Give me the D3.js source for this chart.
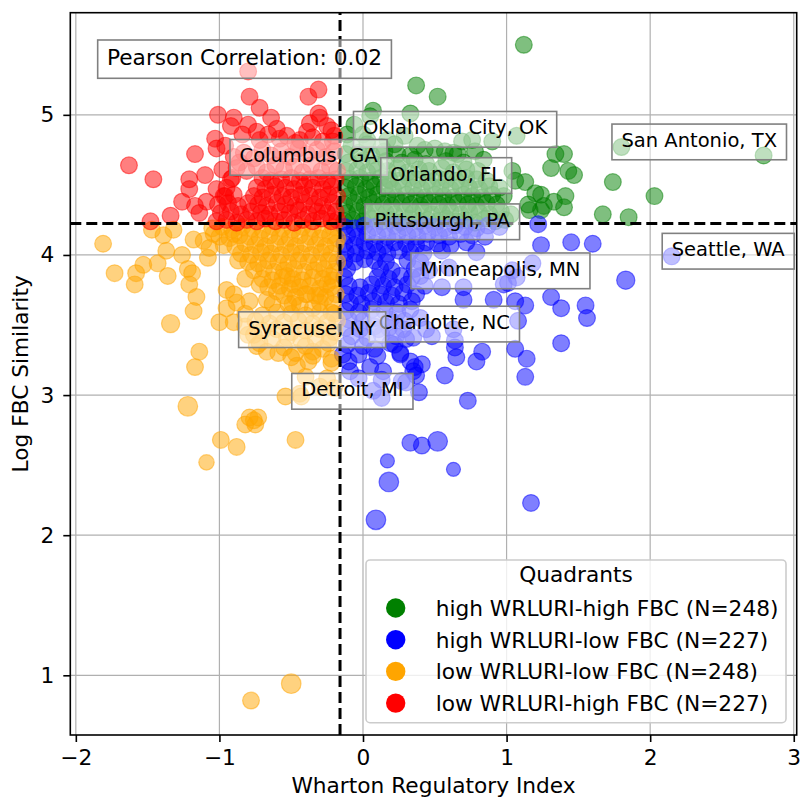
<!DOCTYPE html>
<html><head><meta charset="utf-8">
<script src="https://cdn.jsdelivr.net/npm/d3@7"></script>
<style>body{margin:0;background:#fff} text{font-family:"DejaVu Sans",sans-serif;fill:#000}</style>
</head><body><svg id="c" width="800" height="800"></svg>
<script>
// ---------------- data ----------------
const xTicks = [-2, -1, 0, 1, 2, 3];
const yTicks = [1, 2, 3, 4, 5];
const medianX = -0.16, medianY = 4.224;
const pearson = 0.02;
const groupNames = ["high WRLURI-high FBC", "high WRLURI-low FBC", "low WRLURI-low FBC", "low WRLURI-high FBC"];
const groupCounts = [248, 227, 248, 227];
const groupColors = ["#008000", "#0000ff", "#ffa500", "#ff0000"];

// [x, y, size(1-3, default 2)]
const highHigh = [
[1.12,5.50],[0.37,5.21],[0.52,5.13],[0.07,5.03],[0.33,5.01],[-0.11,4.86],[0.05,4.99],[-0.06,4.93],
[0.90,4.81],[1.07,4.85],[0.69,4.81],[0.76,4.82],[0.50,4.76],[0.57,4.74],[0.63,4.73],[0.29,4.85],[0.43,4.75],[0.17,4.82],[0.03,4.82],
[1.34,4.72],[1.40,4.72],[1.31,4.62],[1.43,4.60],[1.47,4.57],[1.74,4.52],[2.03,4.42],
[1.04,4.60],[1.06,4.53],[1.13,4.52],[1.20,4.44],[1.24,4.43],[1.15,4.36],[1.33,4.38],[1.41,4.42],[1.40,4.34],[1.26,4.35],[1.24,4.32],[1.16,4.32],
[1.67,4.29],[1.85,4.27],[2.79,4.71],[1.80,4.77],[0.00,4.86],[0.19,4.53],
[-0.13,4.24],[-0.07,4.25],[0.00,4.24],[0.06,4.26],[0.13,4.24],[0.19,4.25],[0.26,4.23],[0.32,4.26],[0.39,4.24],[0.45,4.25],[0.52,4.24],[0.58,4.26],[0.65,4.24],[0.71,4.25],[0.78,4.23],[0.85,4.26],[0.92,4.24],[0.99,4.25],
[-0.11,4.30],[-0.04,4.31],[0.03,4.29],[0.09,4.31],[0.16,4.30],[0.22,4.29],[0.29,4.31],[0.35,4.30],[0.42,4.32],[0.48,4.29],[0.55,4.30],[0.61,4.31],[0.68,4.29],[0.74,4.31],[0.81,4.30],[0.88,4.29],[0.96,4.31],[1.03,4.29],
[-0.13,4.36],[-0.06,4.37],[0.01,4.35],[0.07,4.37],[0.14,4.36],[0.20,4.35],[0.27,4.37],[0.33,4.36],[0.40,4.35],[0.46,4.37],[0.53,4.36],[0.59,4.35],[0.66,4.37],[0.73,4.36],[0.79,4.35],[0.86,4.37],[0.93,4.36],
[-0.10,4.42],[-0.03,4.43],[0.04,4.41],[0.10,4.43],[0.17,4.42],[0.23,4.41],[0.30,4.43],[0.37,4.42],[0.43,4.41],[0.50,4.43],[0.56,4.42],[0.63,4.41],[0.70,4.43],[0.76,4.42],[0.83,4.41],[0.90,4.43],[0.98,4.42],
[-0.12,4.48],[-0.05,4.49],[0.02,4.47],[0.08,4.49],[0.15,4.48],[0.21,4.47],[0.28,4.49],[0.35,4.48],[0.41,4.47],[0.48,4.49],[0.54,4.48],[0.61,4.47],[0.68,4.49],[0.74,4.48],[0.81,4.47],[0.88,4.49],[0.95,4.48],
[-0.09,4.54],[-0.02,4.55],[0.05,4.53],[0.12,4.55],[0.18,4.54],[0.25,4.53],[0.32,4.55],[0.38,4.54],[0.45,4.53],[0.52,4.55],[0.58,4.54],[0.65,4.53],[0.72,4.55],[0.79,4.54],[0.86,4.53],
[-0.12,4.60],[-0.04,4.61],[0.03,4.59],[0.10,4.61],[0.17,4.60],[0.24,4.62],[0.31,4.59],[0.39,4.61],[0.46,4.60],[0.55,4.62],[0.63,4.59],[0.72,4.61],[0.80,4.60],
[-0.10,4.66],[-0.01,4.67],[0.08,4.65],[0.16,4.67],[0.27,4.66],[0.36,4.68],[0.44,4.65],[0.58,4.67],[0.70,4.66],[0.84,4.68],
[-0.12,4.72],[-0.03,4.73],[0.06,4.71],[0.15,4.74],[0.24,4.72],[0.33,4.71],[0.66,4.72],[0.78,4.74],
[-0.08,4.78],[0.03,4.79],[0.13,4.77],[0.22,4.79],[0.38,4.78]
];

const highLow = [
[1.22,4.22],[1.24,4.07],[1.45,4.09],[1.60,4.08],[1.83,3.82,2.5],[2.15,3.99],
[1.31,3.70],[1.38,3.62],[1.55,3.64],[1.56,3.55],[1.38,3.37],[1.13,3.64],[1.06,3.67],[1.08,3.53],[0.91,3.68],[0.70,3.68],
[0.83,3.31],[1.06,3.33],[1.14,3.26],[0.79,3.24],[0.65,3.27],[0.57,3.14],[1.13,3.13],[0.73,2.96],
[0.41,3.22],[0.36,3.20],[0.26,3.29],[0.39,3.02],[0.55,3.77],[0.70,3.77],[0.79,4.02],[1.18,3.94],[1.01,3.80],[1.04,3.89],[0.98,3.79],[1.07,3.84],
[0.64,3.39],[0.63,3.47],[0.48,3.42],[0.44,3.47],[0.30,3.40],[0.19,3.37],[0.08,3.33],[-0.03,3.29],[-0.10,3.24],[0.33,3.24],[0.37,3.14],[0.27,3.10],[0.13,2.98],[0.07,3.03],[0.30,3.09],
[0.33,2.66],[0.41,2.64],[0.52,2.67,3],[0.17,2.53,1],[0.18,2.38,3],[0.63,2.47,1],[1.17,2.23],[0.09,2.11,3],
[0.08,4.20],[0.40,3.85],[0.11,3.47],
[-0.14,3.29],[0.10,3.28],[0.26,3.30],[0.35,3.17],[0.14,3.17],[-0.09,3.17],[0.05,3.20],[0.64,3.34],
[-0.13,4.20],[-0.06,4.19],[0.01,4.21],[0.15,4.19],[0.22,4.21],[0.29,4.20],[0.36,4.19],[0.43,4.21],[0.50,4.20],[0.57,4.19],[0.64,4.21],[0.71,4.20],[0.79,4.19],[0.87,4.21],[0.95,4.20],
[-0.11,4.14],[-0.04,4.13],[0.03,4.15],[0.10,4.14],[0.17,4.13],[0.24,4.15],[0.31,4.14],[0.38,4.13],[0.45,4.15],[0.53,4.14],[0.60,4.13],[0.68,4.15],[0.76,4.14],[0.85,4.13],
[-0.13,4.08],[-0.06,4.07],[0.01,4.09],[0.08,4.08],[0.15,4.07],[0.22,4.09],[0.30,4.08],[0.37,4.07],[0.44,4.09],[0.52,4.08],[0.61,4.07],[0.72,4.09],
[-0.12,4.02],[-0.05,4.01],[0.03,4.03],[0.10,4.02],[0.17,4.01],[0.25,4.03],[0.33,4.02],[0.42,4.01],[0.55,4.03],
[-0.13,3.96],[-0.06,3.95],[0.01,3.97],[0.08,3.96],[0.16,3.95],[0.31,3.96],[0.40,3.95],
[-0.11,3.90],[0.12,3.90],[0.20,3.89],[0.36,3.90],[0.46,3.89],[0.60,3.91],
[-0.13,3.84],[0.10,3.84],[0.18,3.83],[0.26,3.85],[0.34,3.84],
[-0.10,3.78],[-0.02,3.77],[0.06,3.79],[0.14,3.78],[0.22,3.77],[0.31,3.79],[0.43,3.78],
[-0.12,3.72],[-0.04,3.71],[0.04,3.73],[0.12,3.72],[0.20,3.71],[0.28,3.73],[0.37,3.72],
[-0.09,3.66],[-0.01,3.65],[0.07,3.67],[0.16,3.66],[0.25,3.65],[0.34,3.67],
[-0.12,3.60],[-0.03,3.59],[0.06,3.61],[0.15,3.60],[0.24,3.59],[0.33,3.61],
[-0.10,3.54],[0.00,3.53],[0.09,3.55],[0.19,3.54],[0.29,3.53],[0.40,3.55],
[-0.12,3.48],[-0.02,3.47],[0.08,3.49],[0.18,3.48],[0.28,3.47],
[-0.08,3.42],[0.03,3.41],[0.13,3.43],[0.23,3.42],[0.35,3.41],
[-0.11,3.36],[0.00,3.35],[0.22,3.36],
[-0.03,3.12],[0.13,3.11]
];

const lowLow = [
[-1.81,4.08],[-1.73,3.87],[-1.59,3.79],[-1.58,3.87],[-1.53,3.93],[-1.43,3.94],[-1.36,3.85],[-1.37,4.03],[-1.26,4.00],[-1.39,4.14],[-1.47,4.18],[-1.32,4.18],
[-1.22,3.90],[-1.19,3.87],[-1.21,3.79],[-1.16,3.70],[-1.18,3.60],[-1.34,3.51,2.5],[-1.14,3.31],[-1.17,3.20],[-1.22,2.92,3],
[-1.00,3.52],[-0.95,3.62],[-0.95,3.75],[-0.88,3.66],[-0.90,3.72],[-0.87,3.96],[-1.08,3.98],[-1.11,4.10],[-1.18,4.11],[-1.04,4.15],[-0.90,4.15],[-1.07,4.05],
[-0.82,3.83],[-0.72,3.79],[-0.60,3.74],[-0.49,3.79],[-0.53,3.85],[-0.39,3.72],[-0.30,3.71],[-0.23,3.85],[-0.25,3.79],[-0.67,3.68],[-0.79,3.67],[-0.63,3.65],[-0.49,3.65],[-0.35,3.62],[-0.22,3.59],
[-0.72,3.37],[-0.67,3.31],[-0.59,3.30],[-0.47,3.30],[-0.35,3.31],[-0.24,3.37],[-0.46,3.21],[-0.22,3.23],[-0.38,3.24],[-0.54,2.99],[-0.44,3.01],[-0.76,3.43],[-0.82,3.49],[-0.74,3.35],
[-0.79,2.84],[-0.73,2.84],[-0.82,2.79],[-0.75,2.79],[-0.76,2.82],[-0.99,2.68],[-0.88,2.63],[-0.47,2.68],[-1.09,2.52,1.5],
[-0.78,0.82],[-0.50,0.94,3],
[-0.80,3.43],[-0.43,2.99],
[-1.05,4.19],[-0.98,4.20],[-0.91,4.18],[-0.84,4.20],[-0.77,4.19],[-0.70,4.18],[-0.63,4.20],[-0.56,4.19],[-0.49,4.18],[-0.42,4.20],[-0.35,4.19],[-0.28,4.18],[-0.21,4.20],
[-1.00,4.13],[-0.93,4.12],[-0.86,4.14],[-0.79,4.13],[-0.72,4.12],[-0.65,4.14],[-0.58,4.13],[-0.51,4.12],[-0.44,4.14],[-0.37,4.13],[-0.30,4.12],[-0.23,4.14],[-0.18,4.12],
[-0.97,4.07],[-0.89,4.06],[-0.82,4.08],[-0.75,4.07],[-0.68,4.06],[-0.61,4.08],[-0.54,4.07],[-0.47,4.06],[-0.40,4.08],[-0.33,4.07],[-0.26,4.06],[-0.19,4.08],
[-0.85,4.01],[-0.78,4.00],[-0.71,4.02],[-0.64,4.01],[-0.57,4.00],[-0.50,4.02],[-0.43,4.01],[-0.36,4.00],[-0.29,4.02],[-0.22,4.01],
[-0.80,3.95],[-0.73,3.94],[-0.66,3.96],[-0.59,3.95],[-0.52,3.94],[-0.45,3.96],[-0.38,3.95],[-0.31,3.94],[-0.24,3.96],[-0.18,3.95],
[-0.76,3.89],[-0.69,3.90],[-0.62,3.88],[-0.55,3.89],[-0.48,3.90],[-0.41,3.88],[-0.34,3.89],[-0.27,3.90],[-0.20,3.88],
[-0.70,3.83],[-0.63,3.82],[-0.56,3.84],[-0.49,3.83],[-0.42,3.82],[-0.35,3.84],[-0.28,3.83],[-0.21,3.82],
[-0.66,3.77],[-0.58,3.78],[-0.51,3.76],[-0.44,3.77],[-0.37,3.78],[-0.30,3.76],[-0.22,3.77],
[-0.55,3.71],[-0.47,3.70],[-0.40,3.72],[-0.33,3.71],[-0.26,3.70],[-0.19,3.72],
[-0.52,3.65],[-0.44,3.64],[-0.30,3.66],[-0.21,3.65],
[-0.82,3.58],[-0.70,3.57],[-0.60,3.59],[-0.50,3.58],[-0.40,3.57],[-0.30,3.59],[-0.20,3.58],
[-0.90,3.52],[-0.75,3.53],[-0.65,3.51],[-0.55,3.52],[-0.45,3.53],[-0.35,3.51],[-0.25,3.52],[-0.18,3.53],
[-0.70,3.46],[-0.60,3.47],[-0.50,3.45],[-0.40,3.46],[-0.30,3.47],[-0.20,3.45],
[-0.63,3.40],[-0.53,3.41],[-0.43,3.39],[-0.33,3.40],[-0.23,3.41],
[-0.55,3.34],[-0.40,3.35],[-0.28,3.33],
[-0.50,3.27],[-0.35,3.28],[-0.22,3.26],
[-0.40,3.13],[-0.25,3.12],[-0.30,3.06],[-0.20,3.05]
];

const lowHigh = [
[-0.80,5.31],[-1.63,4.64],[-1.46,4.54],[-1.17,4.72],[-0.79,5.13],[-0.72,5.05],[-0.38,5.13],[-0.31,5.18],
[-1.01,5.00],[-0.90,4.98],[-0.64,4.98],[-0.92,4.92],[-0.80,4.93],[-0.74,4.88],[-0.31,5.01],[-0.30,4.98],[-0.37,4.94],[-0.22,4.89],[-0.39,4.88],[-0.58,4.83],[-1.03,4.83],[-1.02,4.76],[-0.96,4.78],[-0.44,4.82],[-0.21,4.81],
[-1.10,4.57],[-1.21,4.54],[-0.98,4.61],[-0.91,4.55],[-1.21,4.47],[-1.26,4.38],[-1.09,4.38],[-1.17,4.35],[-1.34,4.28],[-1.48,4.24],[-1.14,4.30],[-1.02,4.47],[-0.96,4.42],
[-0.86,4.66],
[-1.02,4.24],[-0.95,4.25],[-0.88,4.23],[-0.81,4.25],[-0.74,4.24],[-0.68,4.26],[-0.61,4.24],[-0.55,4.25],[-0.48,4.23],[-0.42,4.25],[-0.35,4.24],[-0.29,4.26],[-0.22,4.24],[-0.18,4.25],
[-0.99,4.30],[-0.92,4.31],[-0.85,4.29],[-0.78,4.31],[-0.71,4.30],[-0.65,4.29],[-0.58,4.31],[-0.51,4.30],[-0.45,4.32],[-0.38,4.29],[-0.32,4.31],[-0.25,4.30],[-0.19,4.31],
[-1.01,4.36],[-0.94,4.37],[-0.87,4.35],[-0.80,4.37],[-0.73,4.36],[-0.67,4.35],[-0.60,4.37],[-0.54,4.36],[-0.47,4.35],[-0.41,4.37],[-0.34,4.36],[-0.28,4.35],[-0.21,4.37],
[-0.97,4.42],[-0.90,4.43],[-0.76,4.42],[-0.70,4.41],[-0.63,4.43],[-0.56,4.42],[-0.50,4.41],[-0.43,4.43],[-0.37,4.42],[-0.30,4.41],[-0.24,4.43],[-0.18,4.42],
[-0.95,4.48],[-0.74,4.48],[-0.68,4.47],[-0.61,4.49],[-0.54,4.48],[-0.48,4.47],[-0.41,4.49],[-0.35,4.48],[-0.28,4.47],[-0.22,4.49],
[-0.92,4.54],[-0.70,4.55],[-0.64,4.53],[-0.57,4.54],[-0.50,4.55],[-0.44,4.53],[-0.37,4.54],[-0.31,4.55],[-0.25,4.53],[-0.19,4.54],
[-0.90,4.70],[-0.83,4.73],[-0.76,4.69],[-0.70,4.75],[-0.64,4.71],[-0.57,4.74],[-0.51,4.70],[-0.45,4.76],[-0.39,4.72],[-0.32,4.75],[-0.26,4.70],[-0.20,4.74],
[-0.88,4.62],[-0.81,4.60],[-0.74,4.63],[-0.67,4.59],[-0.61,4.64],[-0.55,4.61],[-0.48,4.63],[-0.42,4.59],[-0.36,4.64],[-0.29,4.60],[-0.23,4.63],[-0.18,4.60],
[-0.72,4.82],[-0.66,4.86],[-0.53,4.85],[-0.47,4.80],[-0.35,4.84],[-0.28,4.81],[-0.20,4.85],[-0.84,4.86],[-0.60,4.90],[-0.25,4.92]
];

// annotated cities: [name, x, y]
const cities = [
["San Antonio, TX", 1.80, 4.77],
["Oklahoma City, OK", 0.00, 4.86],
["Columbus, GA", -0.86, 4.66],
["Orlando, FL", 0.19, 4.53],
["Pittsburgh, PA", 0.08, 4.20],
["Seattle, WA", 2.15, 3.99],
["Minneapolis, MN", 0.40, 3.85],
["Charlotte, NC", 0.11, 3.47],
["Syracuse, NY", -0.80, 3.43],
["Detroit, MI", -0.43, 2.99]
];

// ---------------- chart ----------------
const L = 70.3, R = 796.7, T = 12.7, B = 735;
const FS = 21.7, AFS = 19.5;
const svg = d3.select("#c");
const x = d3.scaleLinear().domain([-2.0385, 3.0205]).range([L, R]);
const y = d3.scaleLinear().domain([0.574, 5.729]).range([B, T]);
const rScale = d3.scaleLinear().domain([1, 3]).range([7, 9.8]);
const intFmt = d3.format("d");

// grid
svg.append("g").selectAll("line").data(xTicks).join("line")
  .attr("x1", d => x(d)).attr("x2", d => x(d)).attr("y1", T).attr("y2", B)
  .attr("stroke", "#b0b0b0").attr("stroke-width", 1.2);
svg.append("g").selectAll("line").data(yTicks).join("line")
  .attr("y1", d => y(d)).attr("y2", d => y(d)).attr("x1", L).attr("x2", R)
  .attr("stroke", "#b0b0b0").attr("stroke-width", 1.2);

// points
const groups = [highHigh, highLow, lowLow, lowHigh];
groups.forEach((pts, i) => {
  svg.append("g").selectAll("circle").data(pts).join("circle")
    .attr("cx", d => x(d[0])).attr("cy", d => y(d[1]))
    .attr("r", d => rScale(d[2] ?? 2))
    .attr("fill", groupColors[i]).attr("fill-opacity", 0.5)
    .attr("stroke", groupColors[i]).attr("stroke-opacity", 0.5).attr("stroke-width", 1.2);
});

// median lines
svg.append("line").attr("x1", x(medianX)).attr("x2", x(medianX)).attr("y1", B).attr("y2", T)
  .attr("stroke", "#000").attr("stroke-width", 3).attr("stroke-dasharray", "11,5");
svg.append("line").attr("x1", L).attr("x2", R).attr("y1", y(medianY)).attr("y2", y(medianY))
  .attr("stroke", "#000").attr("stroke-width", 3).attr("stroke-dasharray", "11,5");

// axes
const ax = svg.append("g").attr("transform", `translate(0,${B})`)
  .call(d3.axisBottom(x).tickValues(xTicks).tickFormat(intFmt).tickSize(7).tickPadding(8).tickSizeOuter(0));
const ay = svg.append("g").attr("transform", `translate(${L},0)`)
  .call(d3.axisLeft(y).tickValues(yTicks).tickFormat(intFmt).tickSize(7).tickPadding(9).tickSizeOuter(0));
[ax, ay].forEach(a => {
  a.select(".domain").remove();
  a.selectAll(".tick line").attr("stroke", "#000").attr("stroke-width", 1.6);
  a.selectAll(".tick text").attr("font-size", FS).attr("font-family", "DejaVu Sans");
});

// spines
svg.append("rect").attr("x", L).attr("y", T).attr("width", R - L).attr("height", B - T)
  .attr("fill", "none").attr("stroke", "#000").attr("stroke-width", 1.6);

// axis labels
svg.append("text").attr("x", (L + R) / 2).attr("y", 793).attr("text-anchor", "middle")
  .attr("font-size", FS).text("Wharton Regulatory Index");
svg.append("text").attr("transform", `translate(28,${(T + B) / 2}) rotate(-90)`).attr("text-anchor", "middle")
  .attr("font-size", FS).text("Log FBC Similarity");

// city annotations
cities.forEach(c => {
  const gx = x(c[1]), gy = y(c[2]);
  const g = svg.append("g");
  const r = g.append("rect");
  const t = g.append("text").attr("x", gx).attr("y", gy).attr("font-size", AFS).text(c[0]);
  const w = t.node().getComputedTextLength();
  r.attr("x", gx - 9.5).attr("y", gy - 23).attr("width", w + 19).attr("height", 35.7)
    .attr("fill", "#fff").attr("fill-opacity", 0.5).attr("stroke", "#808080").attr("stroke-width", 1.6);
});

// pearson box
{
  const px = L + 0.0505 * (R - L), py = T + 0.0724 * (B - T);
  const g = svg.append("g");
  const r = g.append("rect");
  const t = g.append("text").attr("x", px).attr("y", py).attr("font-size", FS)
    .text("Pearson Correlation: " + pearson.toFixed(2));
  const w = t.node().getComputedTextLength();
  r.attr("x", px - 9.3).attr("y", py - 25).attr("width", w + 18.6).attr("height", 38.3)
    .attr("fill", "#fff").attr("fill-opacity", 0.5).attr("stroke", "#808080").attr("stroke-width", 1.6);
}

// legend
{
  const lx = 366, ly = 560, lw = 420, lh = 162.7;
  const g = svg.append("g");
  g.append("rect").attr("x", lx).attr("y", ly).attr("width", lw).attr("height", lh).attr("rx", 4)
    .attr("fill", "#fff").attr("fill-opacity", 0.8).attr("stroke", "#cccccc").attr("stroke-width", 1.6);
  g.append("text").attr("x", lx + lw / 2).attr("y", ly + 21.7).attr("text-anchor", "middle")
    .attr("font-size", FS).text("Quadrants");
  groupNames.forEach((n, i) => {
    const cy = ly + 48 + i * 31.7;
    g.append("circle").attr("cx", lx + 29.7).attr("cy", cy).attr("r", 9.7).attr("fill", groupColors[i]);
    g.append("text").attr("x", lx + 69.7).attr("y", cy + 7.8).attr("font-size", FS)
      .text(`${n} (N=${groupCounts[i]})`);
  });
}
</script>
</body></html>
